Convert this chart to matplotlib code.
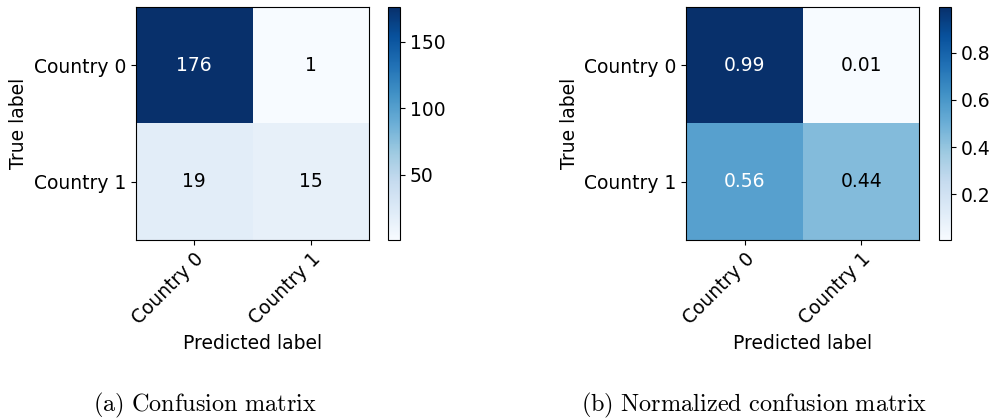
import numpy as np
import matplotlib.pyplot as plt

classes = ['Country 0', 'Country 1']
counts = np.array([[176, 1],
                   [19, 15]])
captions = ['(a) Confusion matrix', '(b) Normalized confusion matrix']

normalized = counts.astype(float) / counts.sum(axis=1)[:, np.newaxis]

plt.rcParams['font.size'] = 13.5
fig = plt.figure(figsize=(9.95, 4.2), dpi=100)


def plot_cm(ax, cax, cm, fmt):
    im = ax.imshow(cm, interpolation='nearest', cmap=plt.cm.Blues)
    fig.colorbar(im, cax=cax)
    ticks = np.arange(len(classes))
    ax.set_xticks(ticks)
    ax.set_xticklabels(classes, rotation=45, ha='right', rotation_mode='anchor')
    ax.set_yticks(ticks)
    ax.set_yticklabels(classes)
    thresh = cm.max() / 2.
    for i in range(cm.shape[0]):
        for j in range(cm.shape[1]):
            ax.text(j, i, format(cm[i, j], fmt), ha='center', va='center',
                    color='white' if cm[i, j] > thresh else 'black')
    ax.set_ylabel('True label')
    ax.set_xlabel('Predicted label')


ax1 = fig.add_axes([0.1367, 0.4286, 0.2342, 0.5548])
cax1 = fig.add_axes([0.3899, 0.4286, 0.0121, 0.5548])
plot_cm(ax1, cax1, counts, 'd')

ax2 = fig.add_axes([0.6894, 0.4286, 0.2352, 0.5548])
cax2 = fig.add_axes([0.9437, 0.4286, 0.0121, 0.5548])
plot_cm(ax2, cax2, normalized, '.2f')

# subfigure captions in Computer Modern
for x, cap in zip([0.206, 0.758], captions):
    fig.text(x, 0.035, '$\\mathrm{' + cap.replace(' ', '\\ ') + '}$',
             ha='center', va='center', fontsize=17.5,
             math_fontfamily='cm')

fig.savefig('out.png', dpi=100)
